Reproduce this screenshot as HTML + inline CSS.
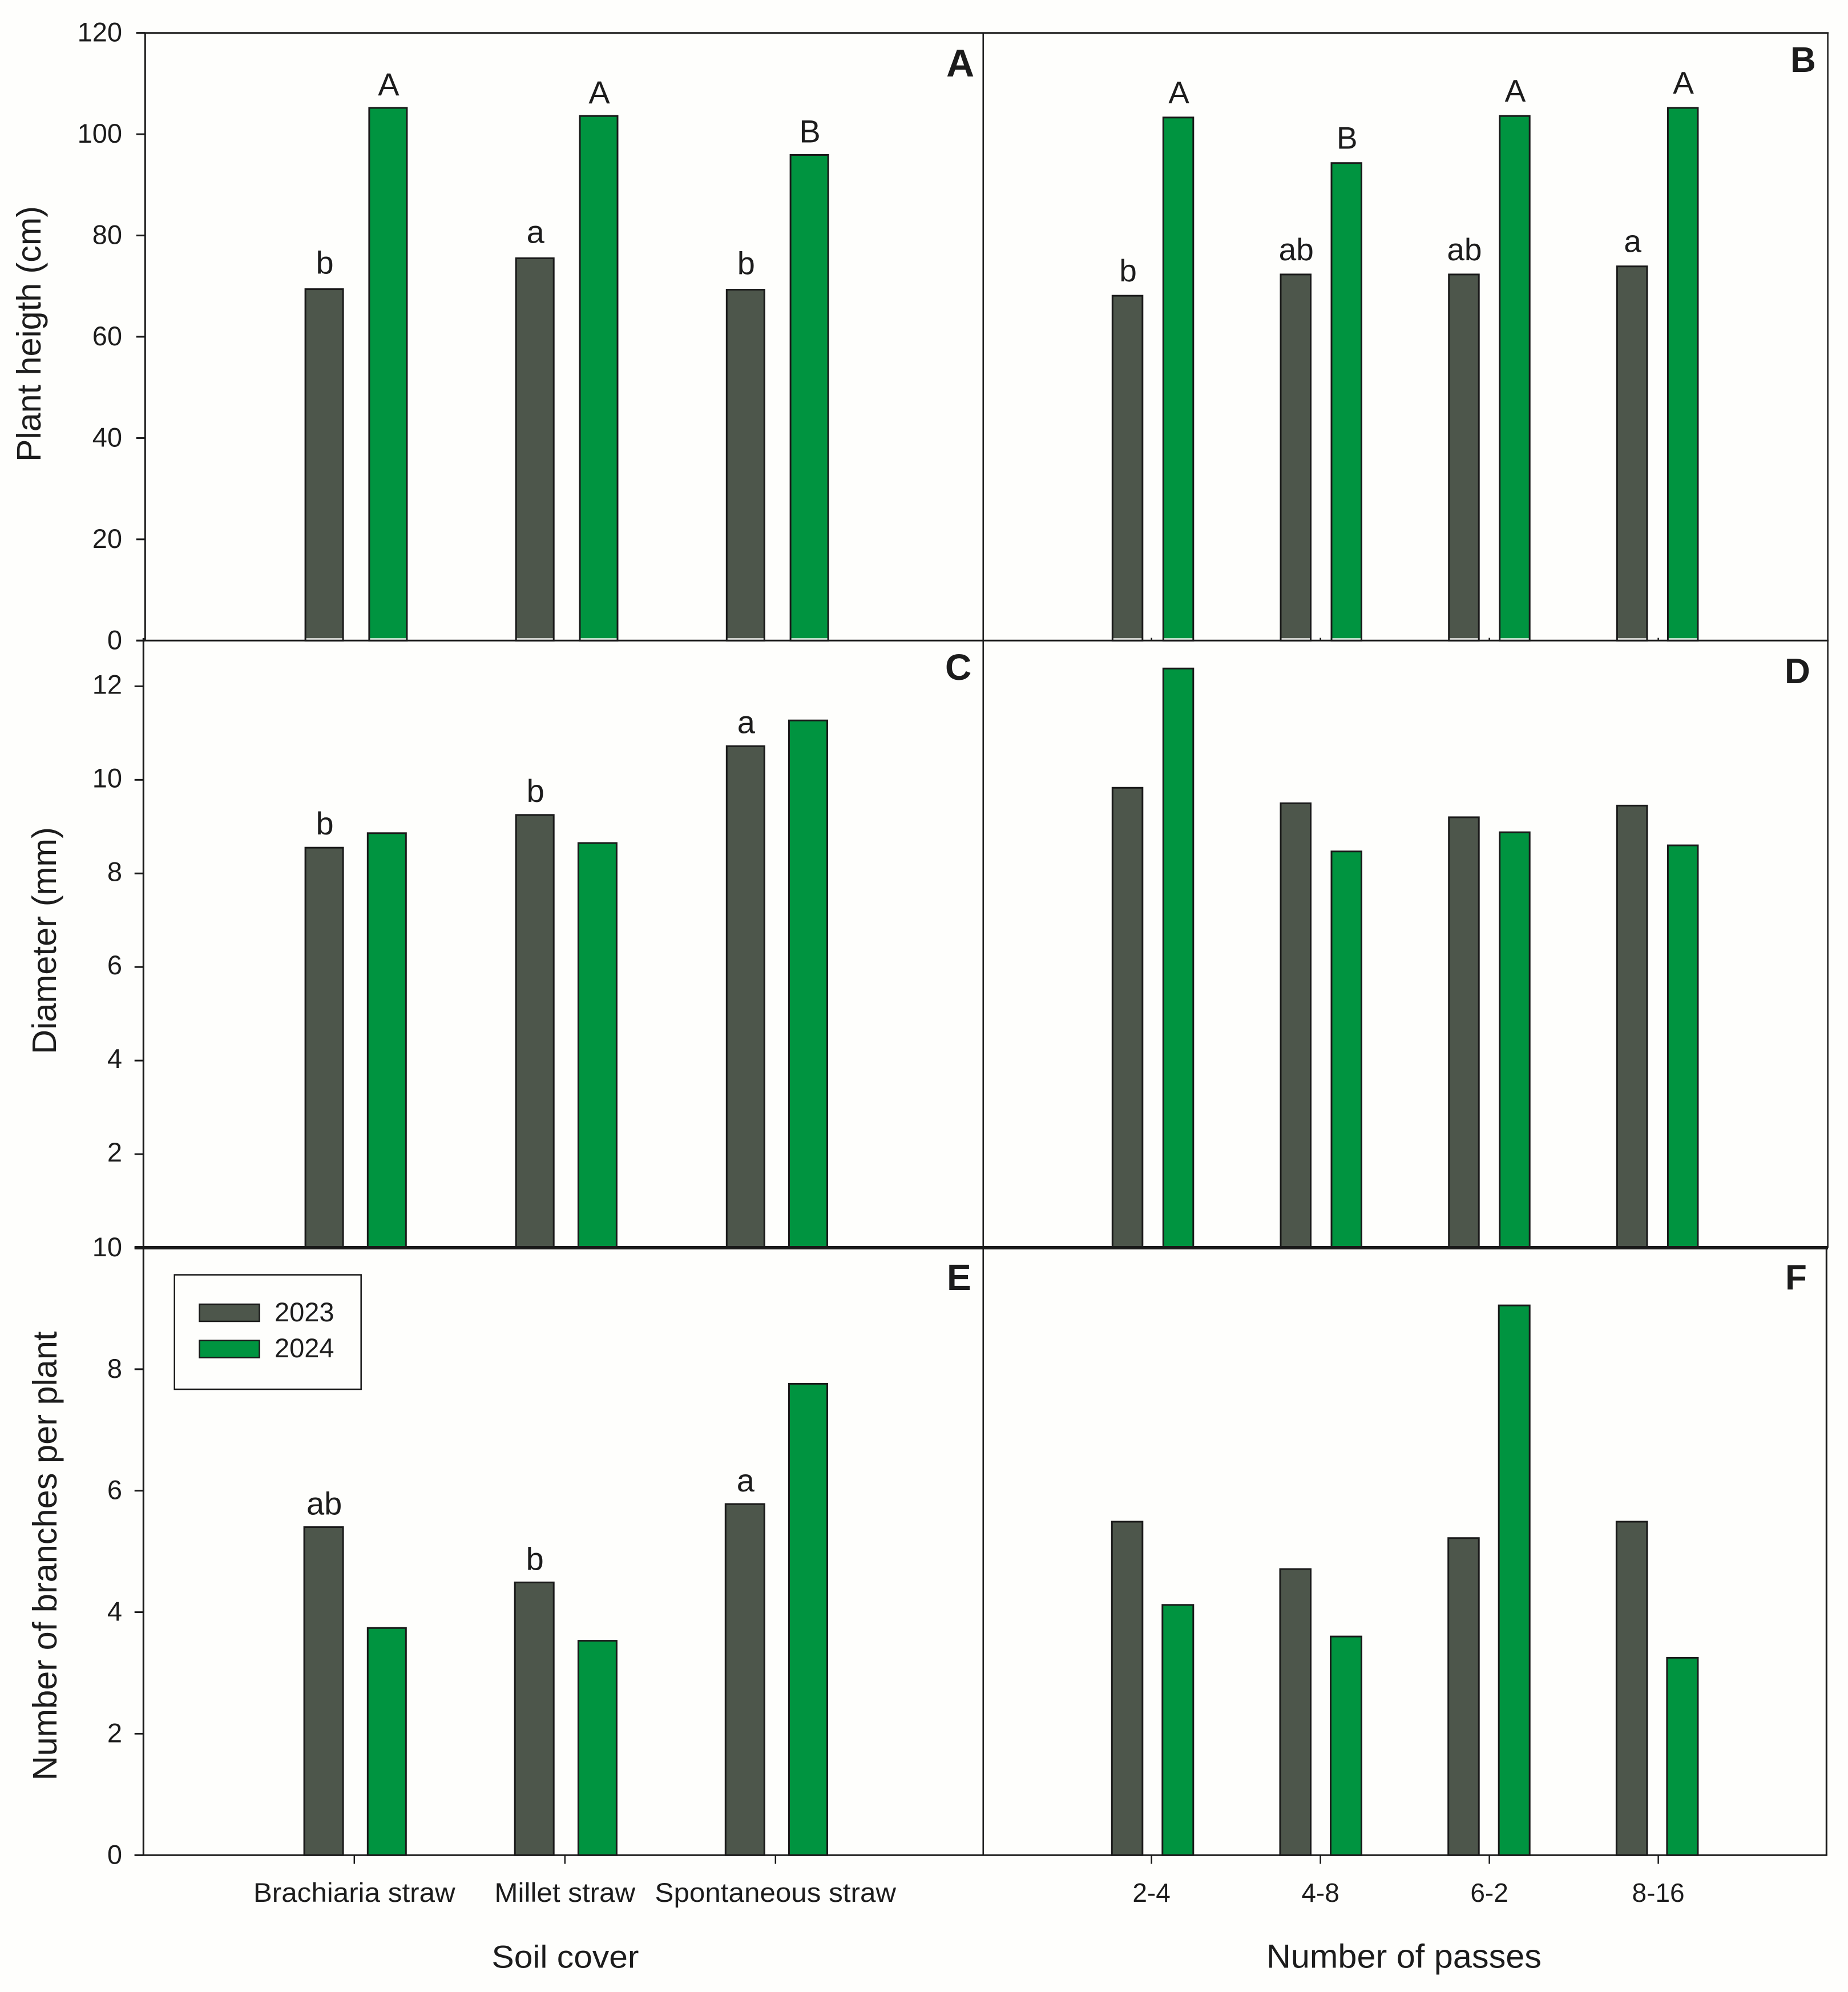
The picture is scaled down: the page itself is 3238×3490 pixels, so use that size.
<!DOCTYPE html>
<html lang="en">
<head>
<meta charset="utf-8">
<title>Plant height, diameter and branches by soil cover and number of passes</title>
<style>
html,body{margin:0;padding:0;background:#fefefc;}
svg{display:block;}
text{font-family:"Liberation Sans",Arial,sans-serif;fill:#1c1c1c;}
</style>
</head>
<body>
<svg id="chart" xmlns="http://www.w3.org/2000/svg" width="3238" height="3490" viewBox="0 0 3238 3490">
  <rect x="0" y="0" width="3238" height="3490" fill="#fefefc"/>
  <g id="marks"></g>
  <g id="ticks"></g>
  <g stroke="#1a1a1a" fill="none">
    <line x1="238.7" y1="57.7" x2="3204" y2="57.7" stroke-width="3"/>
    <line x1="254.3" y1="57.7" x2="254.3" y2="1122.3" stroke-width="3"/>
    <line x1="238.7" y1="1122.3" x2="3204" y2="1122.3" stroke-width="3"/>
    <line x1="251.3" y1="1118" x2="251.3" y2="3250.3" stroke-width="3"/>
    <line x1="235.7" y1="2186" x2="3203" y2="2186" stroke-width="6"/>
    <line x1="235.7" y1="3250.3" x2="3201.8" y2="3250.3" stroke-width="3"/>
    <line x1="1722.7" y1="57.7" x2="1722.7" y2="3250.3" stroke-width="2.5"/>
    <line x1="3202.6" y1="57.7" x2="3202.6" y2="2186" stroke-width="2.5"/>
    <line x1="3200.3" y1="2186" x2="3200.3" y2="3250.3" stroke-width="3"/>
  </g>

  <text x="71" y="585" transform="rotate(-90 71 585)" text-anchor="middle" font-size="59" textLength="448" lengthAdjust="spacingAndGlyphs">Plant heigth (cm)</text>
  <text x="98" y="1648" transform="rotate(-90 98 1648)" text-anchor="middle" font-size="59" textLength="398" lengthAdjust="spacingAndGlyphs">Diameter (mm)</text>
  <text x="99" y="2726" transform="rotate(-90 99 2726)" text-anchor="middle" font-size="59" textLength="787" lengthAdjust="spacingAndGlyphs">Number of branches per plant</text>

  <text x="990.5" y="3447.5" text-anchor="middle" font-size="56" textLength="258" lengthAdjust="spacingAndGlyphs">Soil cover</text>
  <text x="2460" y="3447.5" text-anchor="middle" font-size="58" textLength="482" lengthAdjust="spacingAndGlyphs">Number of passes</text>

  <text x="1658" y="134" font-size="68" font-weight="bold">A</text>
  <text x="3137" y="126" font-size="62" font-weight="bold">B</text>
  <text x="1656" y="1191" font-size="64" font-weight="bold">C</text>
  <text x="3127" y="1197" font-size="62" font-weight="bold">D</text>
  <text x="1659" y="2260" font-size="64" font-weight="bold">E</text>
  <text x="3128" y="2259" font-size="62" font-weight="bold">F</text>

  <g>
    <rect x="305.7" y="2233.5" width="327" height="200.5" fill="#fefefc" stroke="#1a1a1a" stroke-width="2.5"/>
    <rect x="349.5" y="2285" width="105" height="30" fill="#4d564b" stroke="#1a1a1a" stroke-width="2.5"/>
    <text x="481" y="2315" font-size="47">2023</text>
    <rect x="349.5" y="2348.5" width="105" height="30" fill="#009440" stroke="#1a1a1a" stroke-width="2.5"/>
    <text x="481" y="2378" font-size="47">2024</text>
  </g>
</svg>

<script>
/* ---- chart data ---- */
const soilCategories = ["Brachiaria straw", "Millet straw", "Spontaneous straw"];
const passCategories = ["2-4", "4-8", "6-2", "8-16"];

const heightTicks = [0, 20, 40, 60, 80, 100, 120];
const diameterTicks = [2, 4, 6, 8, 10, 12];
const branchTicks = [0, 2, 4, 6, 8, 10];

const heightSoil2023 = [69.4, 75.5, 69.3];
const heightSoil2024 = [105.2, 103.6, 95.9];
const heightPass2023 = [68.1, 72.3, 72.3, 73.9];
const heightPass2024 = [103.3, 94.3, 103.6, 105.2];

const diameterSoil2023 = [8.55, 9.25, 10.72];
const diameterSoil2024 = [8.86, 8.65, 11.27];
const diameterPass2023 = [9.83, 9.5, 9.2, 9.45];
const diameterPass2024 = [12.38, 8.47, 8.88, 8.6];

const branchSoil2023 = [5.4, 4.49, 5.78];
const branchSoil2024 = [3.74, 3.53, 7.76];
const branchPass2023 = [5.49, 4.71, 5.22, 5.49];
const branchPass2024 = [4.12, 3.6, 9.05, 3.25];

const heightSoilLetters2023 = ["b", "a", "b"];
const heightSoilLetters2024 = ["A", "A", "B"];
const heightPassLetters2023 = ["b", "ab", "ab", "a"];
const heightPassLetters2024 = ["A", "B", "A", "A"];
const diameterSoilLetters2023 = ["b", "b", "a"];
const branchSoilLetters2023 = ["ab", "b", "a"];

/* ---- axis functions ---- */
const SVG_NS = "http://www.w3.org/2000/svg";
const marksLayer = document.getElementById("marks");
const ticksLayer = document.getElementById("ticks");

function linearY(bottom, top, maxValue) {
  return function (v) { return bottom - v * (bottom - top) / maxValue; };
}
function linearX(start, step) {
  return function (i) { return start + step * i; };
}

const heightY = linearY(1122.3, 57.7, 120);
const diameterY = linearY(2186, 1122.3, 12.977);
const branchY = linearY(3250.3, 2186, 10);

const soilBarX = linearX(534.6, 369.1);
const passBarX = linearX(1948.8, 294.7);
const soilTickX = linearX(620.8, 369);
const passTickX = linearX(2017.6, 296);

function svgEl(tag) {
  return document.createElementNS(SVG_NS, tag);
}

function drawBar(series, x, w, yTop, yBase, clearBase) {
  const rect = svgEl("rect");
  rect.setAttribute("x", x + 1.5);
  rect.setAttribute("y", yTop);
  rect.setAttribute("width", w - 3);
  rect.setAttribute("height", yBase - yTop);
  rect.setAttribute("fill", series === 2023 ? "#4d564b" : "#009440");
  rect.setAttribute("stroke", "#1a1a1a");
  rect.setAttribute("stroke-width", "3");
  if (series === 2023) {
    
  } else {
    
  }
  
  marksLayer.appendChild(rect);

  if (clearBase) {
    const strip = svgEl("rect");
    strip.setAttribute("x", x + 3);
    strip.setAttribute("y", yBase - 4);
    strip.setAttribute("width", w - 6);
    strip.setAttribute("height", 2.5);
    strip.setAttribute("fill", "#fefefc");
    
    
    marksLayer.appendChild(strip);
  }
}

function drawLetter(str, cx, baseline, size) {
  const t = svgEl("text");
  t.setAttribute("x", cx);
  t.setAttribute("y", baseline);
  t.setAttribute("text-anchor", "middle");
  t.setAttribute("font-size", size);
  
  
  t.textContent = str;
  marksLayer.appendChild(t);
}

function drawGroup(values, series, barX, xOffset, w, yFn, yBase, letters, gap, size, clearBase) {
  values.forEach(function (v, i) {
    const x = barX(i) + xOffset;
    const top = yFn(v);
    drawBar(series, x, w, top, yBase, clearBase);
    if (letters && letters[i]) {
      const isUpper = letters[i] === letters[i].toUpperCase();
      drawLetter(letters[i], x + w / 2 + 1, top - (isUpper ? gap.upper : gap.lower), size);
    }
  });
}

function drawYTicks(ticks, yFn, x1, x2, labelX, labelDy) {
  ticks.forEach(function (v) {
    const y = yFn(v);
    const line = svgEl("line");
    line.setAttribute("x1", x1);
    line.setAttribute("x2", x2);
    line.setAttribute("y1", y);
    line.setAttribute("y2", y);
    line.setAttribute("stroke", "#1a1a1a");
    line.setAttribute("stroke-width", "3");
    
    
    ticksLayer.appendChild(line);

    const label = svgEl("text");
    label.setAttribute("x", labelX);
    label.setAttribute("y", y + labelDy);
    label.setAttribute("text-anchor", "end");
    label.setAttribute("font-size", "47");
    
    
    label.textContent = String(v);
    ticksLayer.appendChild(label);
  });
}

function drawXTicks(count, xFn, y1, y2) {
  for (let i = 0; i < count; i++) {
    const line = svgEl("line");
    line.setAttribute("x1", xFn(i));
    line.setAttribute("x2", xFn(i));
    line.setAttribute("y1", y1);
    line.setAttribute("y2", y2);
    line.setAttribute("stroke", "#1a1a1a");
    line.setAttribute("stroke-width", "2.5");
    
    
    ticksLayer.appendChild(line);
  }
}

function drawCategoryLabels(categories, xFn, stretch, fontSize) {
  categories.forEach(function (name, i) {
    const label = svgEl("text");
    label.setAttribute("x", xFn(i));
    label.setAttribute("y", 3332);
    label.setAttribute("text-anchor", "middle");
    label.setAttribute("font-size", fontSize);
    
    
    label.textContent = name;
    ticksLayer.appendChild(label);
    label.setAttribute("textLength", label.getComputedTextLength() * stretch);
    label.setAttribute("lengthAdjust", "spacingAndGlyphs");
  });
}

/* ---- panel A: plant height by soil cover ---- */
drawGroup(heightSoil2023, 2023, soilBarX, -1, 69, heightY, 1122.3, heightSoilLetters2023, {lower: 27, upper: 22}, 56, true);
drawGroup(heightSoil2024, 2024, soilBarX, 110.8, 69, heightY, 1122.3, heightSoilLetters2024, {lower: 27, upper: 22}, 56, true);

/* ---- panel B: plant height by number of passes ---- */
drawGroup(heightPass2023, 2023, passBarX, -1, 55.5, heightY, 1122.3, heightPassLetters2023, {lower: 25, upper: 25}, 55, true);
drawGroup(heightPass2024, 2024, passBarX, 88, 55.5, heightY, 1122.3, heightPassLetters2024, {lower: 25, upper: 25}, 55, true);

/* ---- panel C: diameter by soil cover ---- */
drawGroup(diameterSoil2023, 2023, soilBarX, -1, 69, diameterY, 2186, diameterSoilLetters2023, {lower: 23, upper: 23}, 56, false);
drawGroup(diameterSoil2024, 2024, soilBarX, 108.2, 70, diameterY, 2186, null, null, 56, false);

/* ---- panel D: diameter by number of passes ---- */
drawGroup(diameterPass2023, 2023, passBarX, -1, 55.5, diameterY, 2186, null, null, 54, false);
drawGroup(diameterPass2024, 2024, passBarX, 88, 55.5, diameterY, 2186, null, null, 54, false);

/* ---- panel E: branches by soil cover ---- */
drawGroup(branchSoil2023, 2023, soilBarX, -3, 71, branchY, 3250.3, branchSoilLetters2023, {lower: 22, upper: 22}, 56, false);
drawGroup(branchSoil2024, 2024, soilBarX, 108.2, 70, branchY, 3250.3, null, null, 56, false);

/* ---- panel F: branches by number of passes ---- */
drawGroup(branchPass2023, 2023, passBarX, -2, 56.5, branchY, 3250.3, null, null, 54, false);
drawGroup(branchPass2024, 2024, passBarX, 86.5, 57, branchY, 3250.3, null, null, 54, false);

/* ---- axes ---- */
drawYTicks(heightTicks, heightY, 238.7, 254.3, 214, 15);
drawYTicks(diameterTicks, diameterY, 235.7, 251.3, 214, 13);
drawYTicks(branchTicks, branchY, 235.7, 251.3, 214, 15);

drawXTicks(passCategories.length, passTickX, 1117.5, 1122.3);
drawXTicks(soilCategories.length, soilTickX, 3250.3, 3265.5);
drawXTicks(passCategories.length, passTickX, 3250.3, 3265.5);

drawCategoryLabels(soilCategories, soilTickX, 1.05, 47);
drawCategoryLabels(passCategories, passTickX, 1.0, 46);
</script>
</body>
</html>
